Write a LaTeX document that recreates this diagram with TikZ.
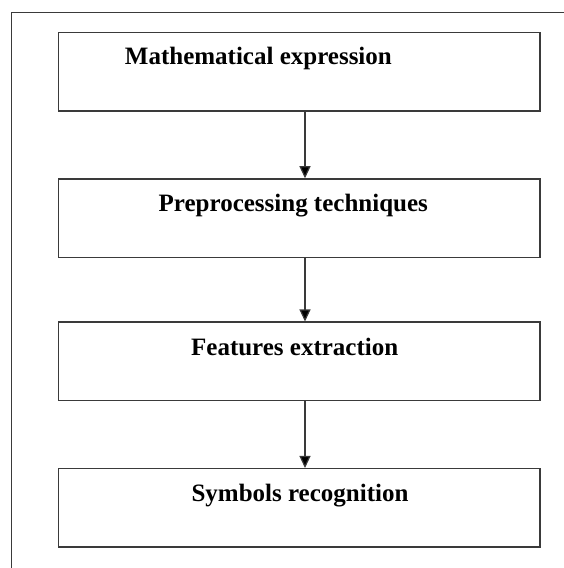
\documentclass[tikz,border=0pt]{standalone}
\usepackage{fontspec}
\setmainfont{Liberation Serif}
\usetikzlibrary{arrows.meta}
\definecolor{edge}{HTML}{3A3A3A}
\tikzset{
  stepbox/.style={draw=edge, line width=1.5pt, minimum width=481.5pt,
    minimum height=78.5pt, inner sep=0pt},
  caption/.style={anchor=base, inner sep=0pt,
    font=\fontsize{25}{29}\selectfont\bfseries},
  flow/.style={draw=edge, line width=1.2pt,
    -{Triangle[length=12pt,width=11pt,fill=black]}},
}
\begin{document}
\begin{tikzpicture}[x=1pt,y=1pt]
  \useasboundingbox (0,0) rectangle (564,568);
  % outer frame, open towards the right and bottom edges
  \draw[edge, line width=1.5pt] (11.5,-2) -- (11.5,555.5) -- (566,555.5);

  % process boxes
  \node[stepbox] (b1) at (299.25,496.25) {};
  \node[stepbox] (b2) at (299.25,349.75) {};
  \node[stepbox] (b3) at (299.25,206.5) {};
  \node[stepbox] (b4) at (299.25,60) {};

  % box titles
  \node[caption] (t1) at (258.4,503) {Mathematical expression};
  \node[caption] (t2) at (293.3,356.3) {Preprocessing techniques};
  \node[caption] (t3) at (294.7,212.3) {Features extraction};
  \node[caption] (t4) at (300,66.3) {Symbols recognition};

  % connectors
  \coordinate (ax) at (305,0);
  \draw[flow] (b1.south -| ax) -- (b2.north -| ax);
  \draw[flow] (b2.south -| ax) -- (b3.north -| ax);
  \draw[flow] (b3.south -| ax) -- (b4.north -| ax);
\end{tikzpicture}
\end{document}
